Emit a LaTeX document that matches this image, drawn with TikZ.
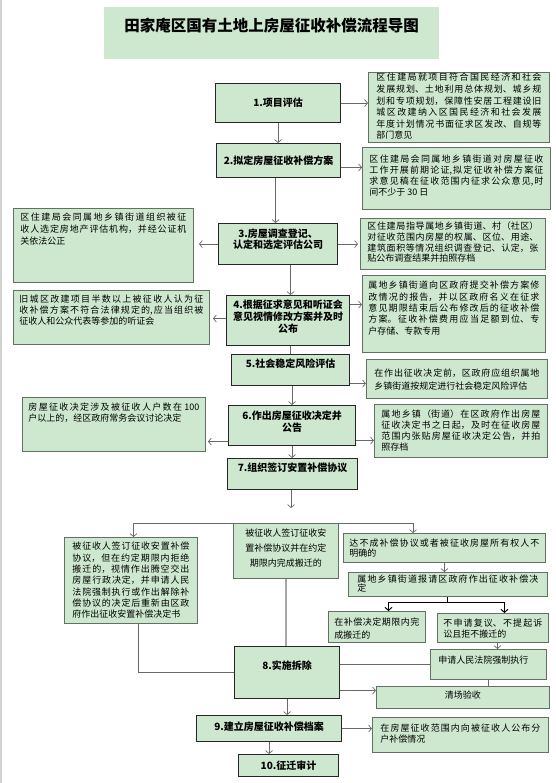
\documentclass[tikz,border=0pt]{standalone}
\usepackage{fontspec}
\setmainfont{Noto Sans CJK SC}
\usetikzlibrary{arrows.meta,calc}
\XeTeXlinebreaklocale "zh"
\XeTeXlinebreakskip = 0pt
\tolerance=10000 \hbadness=10000

\definecolor{boxgreen}{RGB}{205,232,207}
\definecolor{rimgray}{RGB}{100,112,100}
\definecolor{wiregray}{RGB}{105,105,105}

\newcommand\notesize[1]{\fontsize{9pt}{#1pt}\selectfont\XeTeXlinebreakskip=0pt plus 3pt\relax}

\tikzset{
  stepbox/.style={draw=black!85, line width=1.1pt, fill=boxgreen, anchor=north west,
    inner xsep=4pt, inner ysep=0pt, align=center,
    font=\bfseries\fontsize{10pt}{12pt}\selectfont},
  infobox/.style={draw=rimgray, line width=0.9pt, fill=boxgreen, anchor=north west,
    inner ysep=0pt, align=justify},
  flow/.style={draw=wiregray, line width=0.7pt, -{Straight Barb[length=3pt,width=7pt]}},
  link/.style={draw=wiregray, line width=0.7pt},
}

\begin{document}
\begin{tikzpicture}[x=1pt, y=-1pt]
  \useasboundingbox (0,0) rectangle (555,783);
  \fill[gray!35] (0,0) rectangle (1.5,783);

  \node[anchor=north west, fill=boxgreen, inner xsep=4pt, inner ysep=0pt, text width=327pt,
    text height=23.9pt, text depth=28.1pt, align=center,
    font=\bfseries\fontsize{15.5pt}{18pt}\selectfont] (title) at (104,7)
    {田家庵区国有土地上房屋征收补偿流程导图};

  % main steps
  \node[stepbox, text width=117pt, text height=22.8pt, text depth=16.2pt] (p1) at (215,83) {1.项目评估};
  \node[stepbox, text width=116pt, text height=20.8pt, text depth=13.2pt] (p2) at (216,143) {2.拟定房屋征收补偿方案};
  \node[stepbox, text width=111pt, text height=13.8pt, text depth=27.2pt,
    font=\bfseries\fontsize{10pt}{11pt}\selectfont] (p3) at (218,223) {3.房屋调查登记、\\认定和选定评估公司};
  \node[stepbox, text width=115pt, text height=12.8pt, text depth=37.2pt] (p4) at (226,295) {4.根据征求意见和听证会\\意见视情修改方案并及时\\公布};
  \node[stepbox, text width=110pt, text height=12.8pt, text depth=18.2pt] (p5) at (231,354) {5.社会稳定风险评估};
  \node[stepbox, text width=119pt, text height=13.8pt, text depth=26.2pt] (p6) at (228,405) {6.作出房屋征收决定并\\公告};
  \node[stepbox, text width=122pt, text height=12.8pt, text depth=18.2pt] (p7) at (227,458) {7.组织签订安置补偿协议};
  \node[stepbox, text width=97pt, text height=22.8pt, text depth=29.2pt] (p8) at (234,646) {8.实施拆除};
  \node[stepbox, text width=137pt, text height=14.8pt, text depth=11.2pt] (p9) at (196,715) {9.建立房屋征收补偿档案};
  \node[stepbox, text width=92pt, text height=14.8pt, text depth=7.2pt] (p10) at (238,754) {10.征迁审计};

  % side notes
  \node[infobox, inner xsep=8pt, text width=165pt, text height=8.4pt, text depth=61.6pt, font=\notesize{11.6}] (n1) at (368,72)
    {区住建局就项目符合国民经济和社会\linebreak 发展规划、土地利用总体规划、城乡规\linebreak 划和专项规划，保障性安居工程建设旧\linebreak 城区改建纳入区国民经济和社会发展\linebreak 年度计划情况书面征求区发改、自规等\linebreak 部门意见};
  \node[infobox, inner xsep=7pt, text width=174pt, text height=15.1pt, text depth=46.9pt, font=\notesize{11.1}] (n2) at (362,147)
    {区住建局会同属地乡镇街道对房屋征收\linebreak 工作开展前期论证,拟定征收补偿方案征\linebreak 求意见稿在征收范围内征求公众意见,时\linebreak 间不少于 30 日};
  \node[infobox, inner xsep=7pt, text width=166pt, text height=12.4pt, text depth=61.6pt, font=\notesize{11.8}] (n3L) at (13,208)
    {区住建局会同属地乡镇街道组织被征\linebreak 收人选定房地产评估机构，并经公证机\linebreak 关依法公正};
  \node[infobox, inner xsep=7pt, text width=171pt, text height=11.4pt, text depth=39.6pt, font=\notesize{10.6}] (n3R) at (360,218)
    {区住建局指导属地乡镇街道、村（社区）\linebreak 对征收范围内房屋的权属、区位、用途、\linebreak 建筑面积等情况组织调查登记、认定，张\linebreak 贴公布调查结果并拍照存档};
  \node[infobox, inner xsep=6pt, text width=184pt, text height=12.4pt, text depth=41.6pt, font=\notesize{11}] (n4L) at (13,290)
    {旧城区改建项目半数以上被征收人认为征\linebreak 收补偿方案不符合法律规定的,应当组织被\linebreak 征收人和公众代表等参加的听证会};
  \node[infobox, inner xsep=6pt, text width=171pt, text height=13.4pt, text depth=63.6pt, font=\notesize{11.3}] (n4R) at (362,275)
    {属地乡镇街道向区政府提交补偿方案修\linebreak 改情况的报告，并以区政府名义在征求\linebreak 意见期限结束后公布修改后的征收补偿\linebreak 方案。征收补偿费用应当足额到位、专\linebreak 户存储、专款专用};
  \node[infobox, inner xsep=8pt, text width=165pt, text height=17.1pt, text depth=21.9pt, font=\notesize{13.3}] (n5) at (366,359)
    {\parfillskip=0pt 在作出征收决定前，区政府应组织属地\linebreak 乡镇街道按规定进行社会稳定风险评估};
  \node[infobox, inner xsep=6pt, text width=171pt, text height=13.1pt, text depth=40.9pt, font=\notesize{10.7}] (n6L) at (22,397)
    {房屋征收决定涉及被征收人户数在 100\linebreak 户以上的，经区政府常务会议讨论决定};
  \node[infobox, inner xsep=7pt, text width=159pt, text height=13.4pt, text depth=39.6pt, font=\notesize{11}] (n6R) at (374,404)
    {属地乡镇（街道）在区政府作出房屋\linebreak 征收决定书之日起，及时在征收房屋\linebreak 范围内张贴房屋征收决定公告，并拍\linebreak 照存档};

  % branches after step 7
  \node[infobox, inner xsep=8pt, text width=117pt, text height=12.4pt, text depth=73.6pt, font=\notesize{11.3}] (a) at (64,537)
    {\parfillskip=0pt 被征收人签订征收安置补偿\linebreak 协议，但在约定期限内拒绝\linebreak 搬迁的，视情作出腾空交出\linebreak 房屋行政决定，并申请人民\linebreak 法院强制执行或作出解除补\linebreak 偿协议的决定后重新由区政\linebreak 府作出征收安置补偿决定书};
  \node[infobox, align=center, inner xsep=6pt, text width=93pt, text height=13.4pt, text depth=41.6pt, font=\fontsize{9pt}{14.8pt}\selectfont] (b) at (233,523)
    {被征收人签订征收安\\置补偿协议并在约定\\期限内完成搬迁的};
  \node[infobox, inner xsep=6pt, text width=190pt, text height=13.4pt, text depth=15.6pt, font=\notesize{10}] (c) at (343,533)
    {达不成补偿协议或者被征收房屋所有权人不\linebreak 明确的};
  \node[infobox, inner xsep=9pt, text width=181pt, text height=10.4pt, text depth=13.6pt, font=\notesize{9}] (d) at (348,572)
    {属地乡镇街道报请区政府作出征收补偿决\linebreak 定};
  \node[infobox, inner xsep=6pt, text width=85pt, text height=14.1pt, text depth=16.9pt, font=\notesize{13.3}] (e) at (328,611)
    {在补偿决定期限内完\linebreak 成搬迁的};
  \node[infobox, inner xsep=6pt, text width=99pt, text height=13.1pt, text depth=15.9pt, font=\notesize{10.5}] (f) at (437,613)
    {不申请复议、不提起诉\linebreak 讼且拒不搬迁的};
  \node[infobox, inner xsep=8pt, text width=100pt, text height=14.4pt, text depth=15.6pt, font=\notesize{11}] (g) at (430,649)
    {\parfillskip=0pt 申请人民法院强制执行};
  \node[infobox, align=center, inner xsep=6pt, text width=161pt, text height=12.4pt, text depth=9.6pt, font=\fontsize{9pt}{11pt}\selectfont] (h) at (376,686)
    {清场验收};
  \node[infobox, inner xsep=8pt, text width=160pt, text height=14.4pt, text depth=20.6pt, font=\notesize{11}] (n9) at (372,717)
    {在房屋征收范围内向被征收人公布分\linebreak 户补偿情况};

  % connectors
  \draw[flow] (p1.east) -- (p1.east -| n1.west);
  \draw[flow] (p1.south) -- (p1.south |- p2.north);
  \draw[flow] ([yshift=-7pt]p2.east) -- ([yshift=-7pt]p2.east -| n2.west);
  \draw[flow] ([xshift=-3pt]p2.south) -- ([xshift=-3pt]p2.south |- p3.north);
  \draw[flow, shorten >=5pt] (p3.west) -- (p3.west -| n3L.east);
  \draw[flow, shorten >=2pt] (p3.east) -- (p3.east -| n3R.west);
  \draw[flow] ([xshift=2.5pt]p4.north |- p3.south) -- ([xshift=2.5pt]p4.north);
  \draw[flow, shorten >=3pt] ([yshift=2pt]p4.west) -- ([yshift=2pt]p4.west -| n4L.east);
  \draw[flow] ([yshift=16pt]p4.east) -- ([yshift=16pt]p4.east -| n4R.west);
  \draw[link] (p5.north |- p4.south) -- (p5.north);
  \draw[flow] ([yshift=-13.5pt]p5.east) -- ([yshift=-13.5pt]p5.east -| n5.west);
  \draw[flow] (p6.north |- p5.south) -- (p6.north);
  \draw[flow, shorten >=2pt] ([yshift=-16pt]p6.west) -- ([yshift=-16pt]p6.west -| n6L.east);
  \draw[flow] ([yshift=-15pt]p6.east) -- ([yshift=-15pt]p6.east -| n6R.west);
  \draw[flow] (p6.south) -- (p6.south |- p7.north);

  \coordinate (drop) at (291,508);
  \draw[flow] (p7.south -| drop) -- (drop);
  \draw[flow] (b.north west) -| ([xshift=2.5pt]a.north);
  \draw[flow] (b.north east) -| ([xshift=70pt]c.north west);
  \draw[flow] (c.south) -- (c.south |- d.north);
  \coordinate (fork) at ([yshift=-6pt]d.south);
  \draw[line width=1pt] (d.south) -- (fork);
  \draw[flow, draw=black, line width=1pt] (fork) -| ([xshift=11.5pt]e.north);
  \draw[flow, draw=black, line width=1pt] (fork) -| ([xshift=11.5pt]f.north);
  \draw[flow] ([xshift=4.5pt]f.south) -- ([xshift=4.5pt]f.south |- g.north);
  \draw[link] (g.west) -- (g.west -| p8.east);
  \draw[link] (g.south) -- (g.south |- h.north);
  \draw[link, draw=gray!70, line width=1.2pt] (b.south) -- (b.south |- p8.north);
  \draw[link] ([xshift=7pt]a.south) |- (p8.west);
  \draw[flow] ([yshift=-18pt]p8.east) -- ([yshift=-18pt]p8.east -| h.west);
  \draw[flow] (p8.south) -- (p8.south |- p9.north);
  \draw[flow] (p9.east) -- (p9.east -| n9.west);
  \draw[flow] (p9.south) -- (p9.south |- p10.north);
\end{tikzpicture}
\end{document}
